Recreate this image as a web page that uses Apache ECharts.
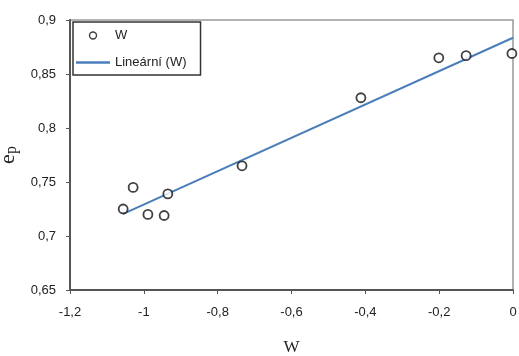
<!DOCTYPE html>
<html><head><meta charset="utf-8">
<script src="https://cdn.jsdelivr.net/npm/echarts@6/dist/echarts.min.js"></script>
<style>html,body{margin:0;padding:0;background:#fff}#c{width:519px;height:356px}</style>
</head><body><div id="c"></div>
<script>
const wValues = [-1.056, -1.029, -0.989, -0.945, -0.935, -0.734, -0.412, -0.201, -0.127, -0.003];
const epValues = [0.725, 0.745, 0.720, 0.719, 0.739, 0.765, 0.828, 0.865, 0.867, 0.869];
const seriesNames = ['W', 'Lineární (W)'];
const xTicks = [-1.2, -1, -0.8, -0.6, -0.4, -0.2, 0];
const yTicks = [0.65, 0.7, 0.75, 0.8, 0.85, 0.9];

// least squares trendline (as in the original spreadsheet chart)
const n = wValues.length;
const mx = wValues.reduce((a,b)=>a+b,0)/n;
const my = epValues.reduce((a,b)=>a+b,0)/n;
let sxy=0, sxx=0;
for(let i=0;i<n;i++){sxy+=(wValues[i]-mx)*(epValues[i]-my);sxx+=(wValues[i]-mx)**2;}
const slope=sxy/sxx, icpt=my-slope*mx;
const xMinD=Math.min(...wValues), xMaxD=0;
const trend=[[xMinD, icpt+slope*xMinD],[xMaxD, icpt+slope*xMaxD]];

const fmt = v => String(+v.toFixed(2)).replace('.', ',');
const chart = echarts.init(document.getElementById('c'));
chart.setOption({
  animation:false,
  grid:{left:70,right:6,top:20,bottom:66,containLabel:false,outerBoundsMode:'none',
        show:true,borderColor:'#999',borderWidth:1.5},
  legend:{
    orient:'vertical', left:73, top:22,
    data:[
      {name:seriesNames[0],icon:'circle',itemStyle:{color:'#fff',borderColor:'#111',borderWidth:1.4}},
      {name:seriesNames[1],icon:'path://M0 0 L30 0 L30 2 L0 2 Z',itemStyle:{color:'#4a7ebb'}}
    ],
    borderColor:'#333', borderWidth:1.5, padding:[7,14,6,3],
    itemWidth:34, itemHeight:7, itemGap:14,
    textStyle:{fontFamily:'Liberation Sans, Arial',fontSize:13,color:'#222'}
  },
  xAxis:{
    type:'value', min:xTicks[0], max:xTicks[xTicks.length-1], interval:0.2,
    name:'W', nameLocation:'middle', nameGap:49,
    nameTextStyle:{fontFamily:'Liberation Serif, Times New Roman',fontSize:17,color:'#222'},
    axisLine:{show:true,onZero:false,lineStyle:{color:'#555',width:2}},
    axisTick:{show:true,inside:false,length:4,lineStyle:{color:'#555'}},
    splitLine:{show:false},
    axisLabel:{formatter:fmt,fontFamily:'Liberation Sans, Arial',fontSize:13,color:'#222',margin:16}
  },
  yAxis:{
    type:'value', min:yTicks[0], max:yTicks[yTicks.length-1], interval:0.05,
    name:'{e|e}{p|p}', nameLocation:'middle', nameGap:48, nameRotate:90,
    nameTextStyle:{rich:{e:{fontFamily:'Liberation Serif, Times New Roman',fontSize:22,color:'#222'},
                         p:{fontFamily:'Liberation Serif, Times New Roman',fontSize:16,color:'#222',padding:[8,0,0,0]}}},
    axisLine:{show:true,onZero:false,lineStyle:{color:'#555',width:2}},
    axisTick:{show:true,inside:false,length:4,lineStyle:{color:'#555'}},
    splitLine:{show:false},
    axisLabel:{formatter:fmt,fontFamily:'Liberation Sans, Arial',fontSize:13,color:'#222',margin:14}
  },
  series:[
    {name:seriesNames[1], type:'line', data:trend, symbol:'none', showSymbol:false,
     lineStyle:{color:'#4a7ebb',width:2}, itemStyle:{color:'#4a7ebb'}, z:2},
    {name:seriesNames[0], type:'scatter', data:wValues.map((x,i)=>[x,epValues[i]]),
     symbol:'circle', symbolSize:9,
     itemStyle:{color:'#fff',borderColor:'#111',borderWidth:1.8}, z:3}
  ]
});
</script></body></html>
